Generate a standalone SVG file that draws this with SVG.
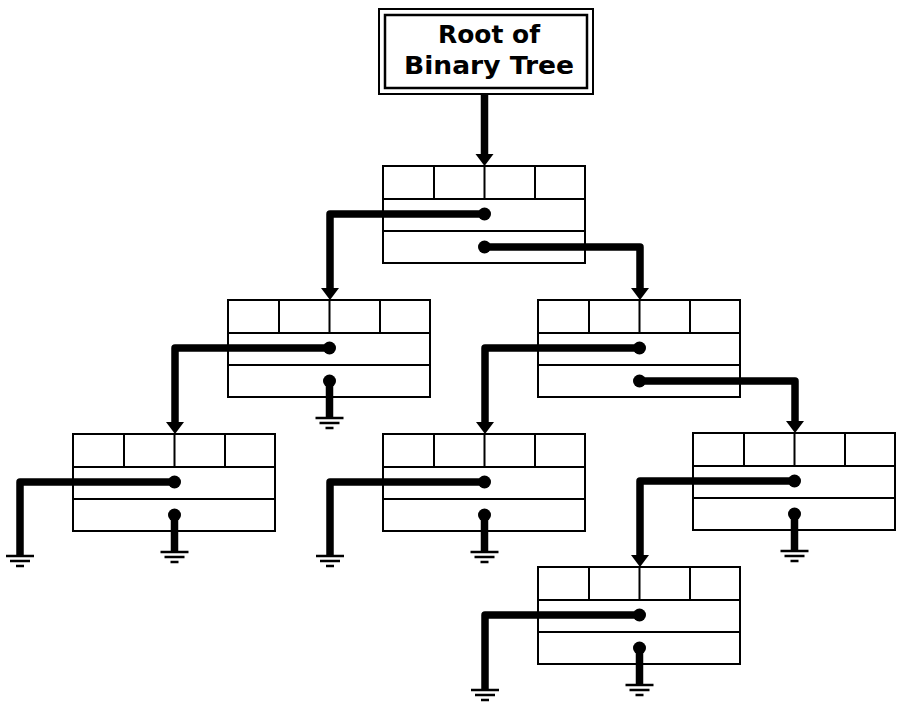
<svg xmlns="http://www.w3.org/2000/svg" xmlns:xlink="http://www.w3.org/1999/xlink" width="897" height="702" viewBox="0 0 897 702">
<style>
.box{fill:#fff;stroke:#000;stroke-width:2}
.ln{stroke:#000;stroke-width:2;fill:none}
.wire{fill:none;stroke:#000;stroke-width:7.5;stroke-linejoin:round}
.gnd{stroke:#000;stroke-width:2.5}
.lbl{font-family:"DejaVu Sans","Liberation Sans",sans-serif;font-weight:bold;font-size:24px;fill:#000}
</style>
<defs>
<g id="cell">
<rect class="box" x="0" y="0" width="202" height="97"/>
<path class="ln" d="M0 33H202M0 65H202M51 0V33M101.5 0V33M152 0V33"/>
</g>
<g id="ground">
<line class="gnd" x1="-14" y1="0" x2="14" y2="0"/>
<line class="gnd" x1="-10" y1="5" x2="10" y2="5"/>
<line class="gnd" x1="-4" y1="10" x2="4" y2="10"/>
</g>
<marker id="arr" markerUnits="userSpaceOnUse" viewBox="-2 -10 14 20" refX="0" refY="0" markerWidth="14" markerHeight="20" orient="auto">
<polygon points="-1,-9 11,0 -1,9" fill="#000"/>
</marker>
</defs>
<rect width="897" height="702" fill="#fff"/>
<g id="root">
<rect x="379" y="9" width="214" height="85" fill="#fff" stroke="#000" stroke-width="2"/>
<rect x="385" y="15" width="202" height="73" fill="none" stroke="#000" stroke-width="2.5"/>
<text class="lbl" x="489" y="43" text-anchor="middle" textLength="102" lengthAdjust="spacingAndGlyphs">Root of</text>
<text class="lbl" x="489" y="74" text-anchor="middle" textLength="170" lengthAdjust="spacingAndGlyphs">Binary Tree</text>
</g>
<g id="n1" transform="translate(383,166)"><use xlink:href="#cell"/></g>
<g id="n2" transform="translate(228,300)"><use xlink:href="#cell"/></g>
<g id="n3" transform="translate(538,300)"><use xlink:href="#cell"/></g>
<g id="n4" transform="translate(73,434)"><use xlink:href="#cell"/></g>
<g id="n5" transform="translate(383,434)"><use xlink:href="#cell"/></g>
<g id="n6" transform="translate(693,433)"><use xlink:href="#cell"/></g>
<g id="n7" transform="translate(538,567)"><use xlink:href="#cell"/></g>
<g id="connectors">
<path class="wire" d="M484.5 94V155" marker-end="url(#arr)"/>
<path class="wire" d="M484.5 214H330V289" marker-end="url(#arr)"/>
<path class="wire" d="M484.5 247H640V289" marker-end="url(#arr)"/>
<path class="wire" d="M329.5 348H175V423" marker-end="url(#arr)"/>
<path class="wire" d="M329.5 381V418"/>
<path class="wire" d="M639.5 348H485V423" marker-end="url(#arr)"/>
<path class="wire" d="M639.5 381H795V422" marker-end="url(#arr)"/>
<path class="wire" d="M174.5 482H20V556"/>
<path class="wire" d="M174.5 515V552"/>
<path class="wire" d="M484.5 482H330V556"/>
<path class="wire" d="M484.5 515V552"/>
<path class="wire" d="M794.5 481H640V556" marker-end="url(#arr)"/>
<path class="wire" d="M794.5 514V551"/>
<path class="wire" d="M639.5 615H485V690"/>
<path class="wire" d="M639.5 648V685"/>
<g fill="#000">
<circle cx="484.5" cy="214" r="6.5"/><circle cx="484.5" cy="247" r="6.5"/>
<circle cx="329.5" cy="348" r="6.5"/><circle cx="329.5" cy="381" r="6.5"/>
<circle cx="639.5" cy="348" r="6.5"/><circle cx="639.5" cy="381" r="6.5"/>
<circle cx="174.5" cy="482" r="6.5"/><circle cx="174.5" cy="515" r="6.5"/>
<circle cx="484.5" cy="482" r="6.5"/><circle cx="484.5" cy="515" r="6.5"/>
<circle cx="794.5" cy="481" r="6.5"/><circle cx="794.5" cy="514" r="6.5"/>
<circle cx="639.5" cy="615" r="6.5"/><circle cx="639.5" cy="648" r="6.5"/>
</g>
<use xlink:href="#ground" x="329.5" y="418"/>
<use xlink:href="#ground" x="20" y="556"/>
<use xlink:href="#ground" x="174.5" y="552"/>
<use xlink:href="#ground" x="330" y="556"/>
<use xlink:href="#ground" x="484.5" y="552"/>
<use xlink:href="#ground" x="794.5" y="551"/>
<use xlink:href="#ground" x="485" y="690"/>
<use xlink:href="#ground" x="639.5" y="685"/>
</g>
</svg>
